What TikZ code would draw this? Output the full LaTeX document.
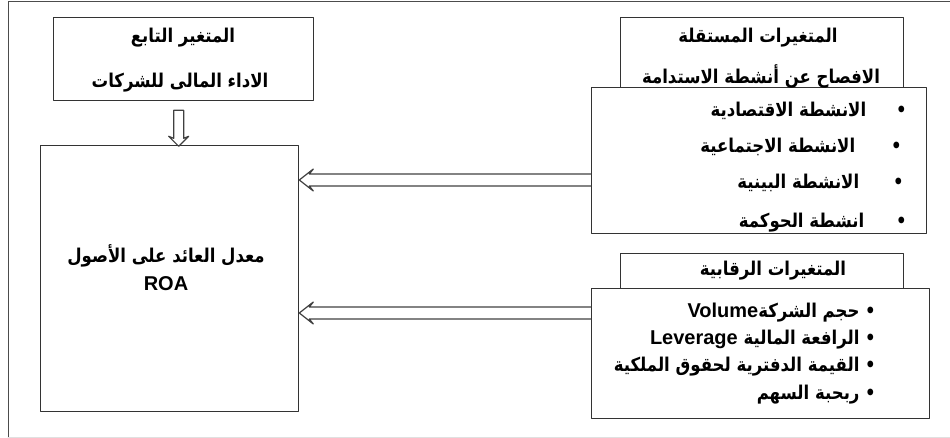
\documentclass[tikz,border=0pt]{standalone}
\usepackage{fontspec}
\usetikzlibrary{calc}
\TeXXeTstate=1
\newfontfamily\arabicfont[Script=Arabic,FakeStretch=0.87]{DejaVu Sans}
\newfontfamily\latinfont{Liberation Sans}
\newcommand\artxt[1]{{\arabicfont\bfseries\beginR #1\endR}}
\newcommand\latw[1]{\beginL{\latinfont\bfseries\fontsize{20}{22}\selectfont #1}\endL{}}
\begin{document}
\begin{tikzpicture}[x=1pt,y=-1pt,line join=round,line cap=round,
	box/.style={draw=black!80,line width=1.3pt,fill=white,anchor=north west,inner sep=0pt},
	hollow/.style={draw=black!75,line width=1.2pt},
	lbl/.style={font=\fontsize{19}{22}\selectfont,inner sep=0pt,yshift=-3pt}]
	\useasboundingbox (0,0) rectangle (950,438);
	\draw[black!70,line width=1pt] (950,2)--(8,2)--(8,438);
	\draw[black!12,line width=1pt] (8,437)--(950,437);
	
	\node[box,minimum width=260pt,minimum height=83pt] (dep) at (53,17) {};
	\node[box,minimum width=258pt,minimum height=266pt] (main) at (40,145) {};
	\node[box,minimum width=283pt,minimum height=70pt] (indtop) at (620,17) {};
	\node[box,minimum width=335pt,minimum height=146pt] (indlist) at (591,87) {};
	\node[box,minimum width=283pt,minimum height=35pt] (ctrtop) at (620,253) {};
	\node[box,minimum width=338pt,minimum height=130pt] (ctrlist) at (591,288) {};
	
	\node[lbl] (deptitle) at (183,35) {\artxt{المتغير التابع}};
	\node[lbl] (depname) at (180,80) {\artxt{الاداء المالى للشركات}};
	\node[lbl] (roaname) at (166,253) {\artxt{معدل العائد على الأصول}};
	\node[lbl,yshift=4pt] (roa) at (166,285) {\latw{ROA}};
	\node[lbl] (indtitle) at (758,35) {\artxt{المتغيرات المستقلة}};
	\node[lbl,yshift=3pt] (indname) at (761,76) {\artxt{الافصاح عن أنشطة الاستدامة}};
	\node[lbl,anchor=east] (ind1) at (907,108) {\artxt{•\hspace{30pt}الانشطة الاقتصادية}};
	\node[lbl,anchor=east] (ind2) at (902,144) {\artxt{•\hspace{36pt}الانشطة الاجتماعية}};
	\node[lbl,anchor=east] (ind3) at (904,180) {\artxt{•\hspace{34pt}الانشطة البينية}};
	\node[lbl,anchor=east] (ind4) at (907,220) {\artxt{•\hspace{32pt}انشطة الحوكمة}};
	\node[lbl] (ctrtitle) at (773,268) {\artxt{المتغيرات الرقابية}};
	\node[lbl,anchor=east] (ctr1) at (876,310) {\artxt{• حجم الشركة\latw{Volume}}};
	\node[lbl,anchor=east] (ctr2) at (876,337) {\artxt{• الرافعة المالية \latw{Leverage}}};
	\node[lbl,anchor=east] (ctr3) at (876,364) {\artxt{• القيمة الدفترية لحقوق الملكية}};
	\node[lbl,anchor=east] (ctr4) at (876,392) {\artxt{• ربحبة السهم}};
	
	\coordinate (dtip) at ($(dep.south)+(-5,45)$);
	\draw[hollow] ($(dtip)+(-5,-36)$) -- ($(dtip)+(-5,-8)$) -- ($(dtip)+(-10,-10)$) -- (dtip)
		-- ($(dtip)+(10,-10)$) -- ($(dtip)+(5,-8)$) -- ($(dtip)+(5,-36)$) -- cycle;
	\foreach \y/\src in {180/indlist,313/ctrlist}{
		\coordinate (tail) at (\src.west|-0,\y);
		\coordinate (tip) at (main.east|-0,\y);
		\draw[hollow] ($(tail)+(0,-6)$) -- ($(tip)+(10,-6)$) -- ($(tip)+(14,-11)$) -- (tip)
			-- ($(tip)+(14,11)$) -- ($(tip)+(10,6)$) -- ($(tail)+(0,6)$);
	}
\end{tikzpicture}
\end{document}
